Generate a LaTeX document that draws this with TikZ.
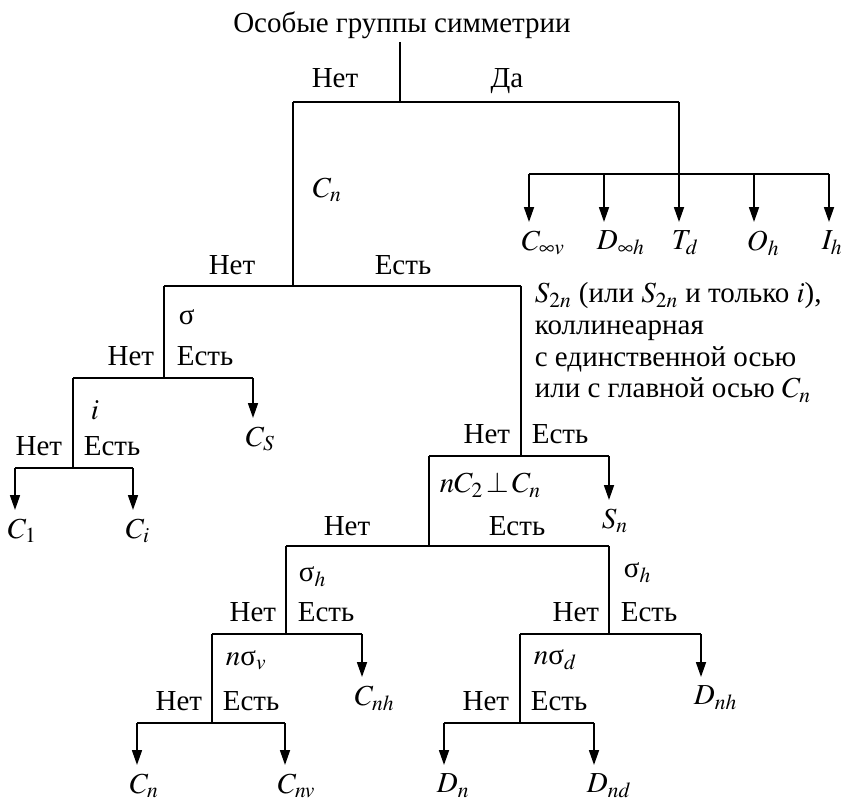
\documentclass[tikz,border=0pt]{standalone}
\usepackage{mathptmx}
\usepackage{fontspec}
\setmainfont{Liberation Serif}
\usetikzlibrary{arrows.meta}
\tikzset{
  arr/.style={-{Triangle[length=8.4pt,width=5.6pt]}},
  nolab/.style={anchor=base east, inner sep=0pt},
  yeslab/.style={anchor=base west, inner sep=0pt},
  testlab/.style={anchor=west, inner sep=0pt},
  leaflab/.style={anchor=north west, inner sep=0pt, xshift=-0.16cm, yshift=-0.16cm},
}

\begin{document}
\begin{tikzpicture}[x=0.02cm, y=-0.02cm, line width=1pt,
  every node/.append style={font=\fontsize{16.5}{18}\selectfont}]
  \useasboundingbox (0,0) rectangle (848,800);
  % root
  \node[anchor=base] (title) at (402,33) {Особые группы симметрии};
  \coordinate (rtop) at (400,42);
  \coordinate (r) at (400,102);
  \coordinate (rl) at (293,102);
  \coordinate (rr) at (679,102);
  \draw (rtop) -- (r);
  \draw (rl) -- (rr);
  \node[anchor=base] (rno) at (335,88) {Нет};
  \node[anchor=base] (ryes) at (507,88) {Да};
  % special groups
  \coordinate (sp1) at (529,174);
  \coordinate (sp2) at (604,174);
  \coordinate (sp4) at (754,174);
  \coordinate (sp5) at (829,174);
  \coordinate (t1) at (529,222);
  \coordinate (t2) at (604,222);
  \coordinate (t3) at (679,222);
  \coordinate (t4) at (754,222);
  \coordinate (t5) at (829,222);
  \draw (sp1) -- (sp5);
  \draw[arr] (sp1) -- (t1);
  \draw[arr] (sp2) -- (t2);
  \draw[arr] (rr) -- (t3);
  \draw[arr] (sp4) -- (t4);
  \draw[arr] (sp5) -- (t5);
  \node[leaflab] (Cinfv) at (t1) {$C_{\infty v}$};
  \node[leaflab] (Dinfh) at (t2) {$D_{\infty h}$};
  \node[leaflab] (Td) at (t3) {$T_d$};
  \node[leaflab] (Oh) at (t4) {$O_h$};
  \node[leaflab] (Ih) at (t5) {$I_h$};
  % C_n
  \coordinate (cn) at (293,286);
  \coordinate (cnl) at (164,286);
  \coordinate (cnr) at (521,286);
  \draw (rl) -- (cn);
  \draw (cnl) -- (cnr);
  \node[testlab] (cnlab) at (312,190) {$C_n$};
  \node[anchor=base] (cnno) at (232,275) {Нет};
  \node[anchor=base] (cnyes) at (403,275) {Есть};
  % sigma
  \coordinate (s) at (164,378);
  \coordinate (sl) at (73,378);
  \coordinate (sr) at (253,378);
  \coordinate (stip) at (253,418);
  \draw (cnl) -- (s);
  \draw (sl) -- (sr);
  \draw[arr] (sr) -- (stip);
  \node[testlab] (slab) at (178,317) {σ};
  \node[nolab] (sno) at (155,365) {Нет};
  \node[yeslab] (syes) at (176,365) {Есть};
  \node[leaflab] (Cs) at (stip) {$C_S$};
  % i
  \coordinate (i) at (73,468);
  \coordinate (il) at (15,468);
  \coordinate (ir) at (133,468);
  \coordinate (itip1) at (15,510);
  \coordinate (itip2) at (133,510);
  \draw (sl) -- (i);
  \draw (il) -- (ir);
  \draw[arr] (il) -- (itip1);
  \draw[arr] (ir) -- (itip2);
  \node[testlab] (ilab) at (90,410) {$i$};
  \node[nolab] (ino) at (63,455) {Нет};
  \node[yeslab] (iyes) at (83,455) {Есть};
  \node[leaflab] (C1) at (itip1) {$C_1$};
  \node[leaflab] (Ci) at (itip2) {$C_i$};
  % S_2n
  \coordinate (sn) at (521,456);
  \coordinate (snl) at (429,456);
  \coordinate (snr) at (609,456);
  \coordinate (sntip) at (609,500);
  \draw (cnr) -- (sn);
  \draw (snl) -- (snr);
  \draw[arr] (snr) -- (sntip);
  \node[anchor=north west, inner sep=0pt, align=left] (snlab) at (534,282)
    {$S_{2n}$ (или $S_{2n}$ и только $i$),\\коллинеарная\\с единственной осью\\или с главной осью $C_n$};
  \node[nolab] (snno) at (511,443) {Нет};
  \node[yeslab] (snyes) at (531,443) {Есть};
  \node[leaflab] (Sn) at (sntip) {$S_n$};
  % n C_2 perp C_n
  \coordinate (c2) at (429,546);
  \coordinate (c2l) at (286,546);
  \coordinate (c2r) at (609,546);
  \draw (snl) -- (c2);
  \draw (c2l) -- (c2r);
  \node[testlab] (c2lab) at (439,485) {$nC_2\!\perp\! C_n$};
  \node[anchor=base] (c2no) at (347,535) {Нет};
  \node[anchor=base] (c2yes) at (517,535) {Есть};
  % sigma_h, left
  \coordinate (hl) at (286,634);
  \coordinate (hll) at (212,634);
  \coordinate (hlr) at (362,634);
  \coordinate (hltip) at (362,677);
  \draw (c2l) -- (hl);
  \draw (hll) -- (hlr);
  \draw[arr] (hlr) -- (hltip);
  \node[testlab] (hllab) at (298,577) {σ$_h$};
  \node[nolab] (hlno) at (277,621) {Нет};
  \node[yeslab] (hlyes) at (297,621) {Есть};
  \node[leaflab] (Cnh) at (hltip) {$C_{nh}$};
  % n sigma_v
  \coordinate (v) at (212,723);
  \coordinate (vl) at (137,723);
  \coordinate (vr) at (285,723);
  \coordinate (vtip1) at (137,765);
  \coordinate (vtip2) at (285,765);
  \draw (hll) -- (v);
  \draw (vl) -- (vr);
  \draw[arr] (vl) -- (vtip1);
  \draw[arr] (vr) -- (vtip2);
  \node[testlab] (vlab) at (225,660) {$n$σ$_v$};
  \node[nolab] (vno) at (203,710) {Нет};
  \node[yeslab] (vyes) at (222,710) {Есть};
  \node[leaflab] (Cn) at (vtip1) {$C_n$};
  \node[leaflab] (Cnv) at (vtip2) {$C_{nv}$};
  % sigma_h, right
  \coordinate (hr) at (609,634);
  \coordinate (hrl) at (520,634);
  \coordinate (hrr) at (701,634);
  \coordinate (hrtip) at (701,677);
  \draw (c2r) -- (hr);
  \draw (hrl) -- (hrr);
  \draw[arr] (hrr) -- (hrtip);
  \node[testlab] (hrlab) at (623,573) {σ$_h$};
  \node[nolab] (hrno) at (600,621) {Нет};
  \node[yeslab] (hryes) at (620,621) {Есть};
  \node[leaflab] (Dnh) at (hrtip) {$D_{nh}$};
  % n sigma_d
  \coordinate (d) at (520,723);
  \coordinate (dl) at (444,723);
  \coordinate (dr) at (594,723);
  \coordinate (dtip1) at (444,765);
  \coordinate (dtip2) at (594,765);
  \draw (hrl) -- (d);
  \draw (dl) -- (dr);
  \draw[arr] (dl) -- (dtip1);
  \draw[arr] (dr) -- (dtip2);
  \node[testlab] (dlab) at (533,660) {$n$σ$_d$};
  \node[nolab] (dno) at (510,710) {Нет};
  \node[yeslab] (dyes) at (530,710) {Есть};
  \node[leaflab] (Dn) at (dtip1) {$D_n$};
  \node[leaflab] (Dnd) at (dtip2) {$D_{nd}$};
\end{tikzpicture}
\end{document}
